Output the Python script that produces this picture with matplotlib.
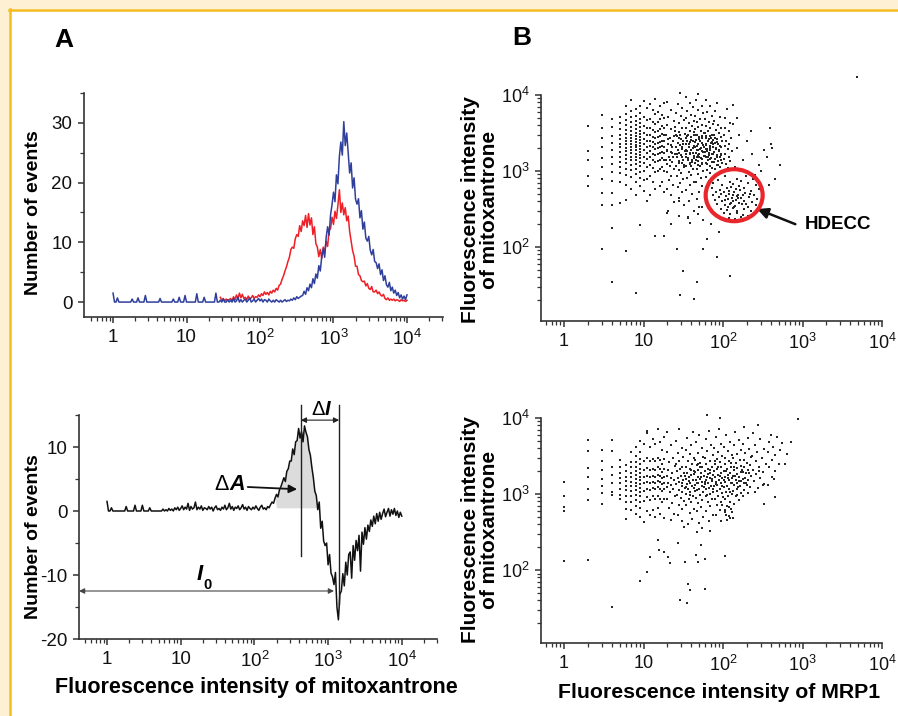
import numpy as np
import matplotlib
matplotlib.use("Agg")
import matplotlib.pyplot as plt
from matplotlib.patches import Ellipse, Rectangle
from matplotlib.lines import Line2D
from matplotlib.ticker import FixedLocator, LogLocator, MultipleLocator, NullFormatter

plt.rcParams['font.family'] = ['Liberation Sans', 'DejaVu Sans']
plt.rcParams['mathtext.default'] = 'regular'
plt.rcParams['axes.unicode_minus'] = False

# ====================== DATA ======================
decade_ticks = [1, 10, 100, 1000, 10000]
decade_labels = ['1', '10', '$10^2$', '$10^3$', '$10^4$']
mito_ticks = [100, 1000, 10000]
mito_labels = ['$10^2$', '$10^3$', '$10^4$']

# histogram channels: log10 of fluorescence, 0 .. 4 (201 channels)
channel_log_first, channel_log_last = 0.0, 4.0

blue_counts = [
    1.5, 0, 0, 0.7, 0, 0, 0, 0, 0, 0,
    0, 0, 0, 0.5, 0, 0, 0, 0.7, 0, 0,
    0, 0, 1.1, 0, 0, 0, 0, 0, 0, 0,
    0, 0, 0.6, 0, 0, 0, 0, 0, 0, 0,
    0, 0.5, 0, 0, 0, 0.8, 0, 0, 0, 1.1,
    0, 0, 0, 0, 0, 0, 0, 1.4, 0, 0,
    0, 0, 0.8, 0, 0, 0, 0, 0, 0, 0,
    1.5, 0, 0, 0.3, 0, 0.5, 0, 0, 0.4, 0,
    0.3, 0, 0.6, 0, 0.2, 0.8, 0, 0.4, 0, 0.3,
    0.5, 0, 0.3, 0.7, 0, 0.2, 0.5, 0, 0.3, 0.6,
    0.2, 0.5, 0, 0.4, 0.3, 0, 0.5, 0.2, 0, 0.3,
    0, 0.4, 0.2, 0, 0.3, 0, 0.2, 0.4, 0.1, 0.3,
    0.2, 0.5, 0.3, 0.7, 0.4, 0.9, 0.6, 0.8, 1.0, 1.1,
    1.8, 1.3, 2.4, 1.9, 3.0, 2.4, 3.9, 3.1, 4.7, 4.0,
    6.1, 5.2, 7.6, 8.9, 7.5, 10.8, 12.6, 11.2, 14.6, 16.3,
    18.4, 16.8, 21.3, 19.8, 24.4, 26.8, 24.6, 30.2, 26.2, 28.3,
    24.9, 21.6, 23.3, 19.1, 20.8, 17.2, 16.4, 17.3, 14.1, 15.3,
    12.2, 13.4, 10.7, 10.2, 11.0, 8.7, 7.9, 8.8, 6.8, 6.6,
    5.6, 6.4, 4.6, 5.4, 3.6, 4.4, 2.9, 2.5, 3.3, 1.9,
    2.5, 1.5, 2.0, 1.1, 1.6, 0.7, 1.2, 0.5, 1.0, 0.4,
    1.2]

red_first_channel = 73
red_counts = [
    0.8, 0.3, 0.6, 0.2, 0.5, 0.3, 0.4,
    0.6, 0.2, 0.9, 0.4, 1.2, 0.5, 1.5, 0.7, 1.3, 0.6,
    0.8, 0.4, 1.0, 0.5, 0.7, 1.1, 0.6, 0.9, 0.8, 1.2,
    0.9, 1.4, 1.1, 1.7, 1.3, 1.6, 1.2, 1.8, 1.5, 2.0,
    1.7, 2.3, 2.0, 2.8, 3.0, 3.8, 4.4, 5.2, 5.9, 6.8,
    7.5, 8.8, 9.2, 9.0, 10.6, 11.3, 11.0, 12.8, 11.8, 13.6,
    12.8, 14.5, 12.5, 14.8, 12.9, 14.1, 11.3, 12.6, 9.8, 9.2,
    7.6, 8.8, 7.3, 9.2, 8.2, 10.2, 9.3, 12.0, 12.3, 14.2,
    13.0, 15.2, 14.0, 16.2, 18.8, 15.0, 16.6, 14.6, 15.8, 13.6,
    14.4, 11.8, 10.2, 8.6, 7.7, 6.0, 6.0, 4.6, 4.4, 3.6,
    3.4, 3.5, 2.7, 3.1, 2.3, 2.1, 2.6, 1.7, 1.7, 2.0,
    1.4, 1.7, 1.2, 1.0, 1.3, 0.6, 0.4, 0.7, 0.3, 0.5,
    0.3, 0.5, 0.2, 0.4, 0.3, 0.1, 0.4, 0.2, 0.3, 0.1,
    0.3]

diff_counts = [
    1.5, 0, 0, 0.5, 0, 0, 0, 0, 0, 0,
    0, 0, 0, 0.7, 0, 0, 0, 0, 0, 0.9,
    0, 0, 0, 0, 0.9, 0, 0, 0, 0, 0.5,
    0, 0, 0, 0, 0, 0, 0, 0, 0.3, 0,
    0.2, 0, 0.4, 0.1, 0.3, 0, 0.5, 0.2, 0.6, 0.1,
    0.4, 0.8, 0.2, 0.6, 0.3, 1.2, 0.1, 0.7, 0.3, 0.5,
    1.4, 0.2, 0.6, 0.3, 0.8, 0.1, 0.5, 0.4, 0.2, 0.7,
    0.3, 0.6, 0.0, 0.5, 0.8, 0.2, 0.4, 0.1, 0.6, 0.3,
    0.9, 0.2, 0.5, 1.2, 0.3, 0.7, 0.1, 0.6, 0.4, 0.8,
    0.2, 0.5, 1.0, 0.3, 0.6, 0.1, 0.7, 0.4, 0.2, 0.6,
    0.3, 0.8, 0.4, 0.1, 0.6, 0.9, 0.3, 0.5, 0.2, 0.7,
    0.5, 1.0, 1.4, 1.2, 2.0, 2.6, 2.2, 3.3, 3.8, 4.5,
    5.2, 4.6, 6.2, 6.6, 7.8, 7.8, 9.7, 8.8, 10.8, 11.0,
    12.9, 11.4, 12.4, 10.8, 13.3, 12.3, 11.6, 9.6, 8.7, 6.8,
    5.2, 3.1, 2.4, 0.2, 1.4, -2.7, -1.6, -4.7, -5.4, -5.0,
    -8.4, -6.8, -9.7, -10.3, -11.5, -9.6, -15.0, -17.0, -13.0, -12.5,
    -9.8, -11.7, -8.0, -10.0, -6.8, -6.4, -10.5, -5.4, -7.7, -4.6,
    -6.2, -3.8, -9.4, -3.3, -5.2, -2.6, -4.4, -2.2, -3.2, -1.4,
    -2.4, -0.8, -2.0, -0.4, -1.6, -0.2, -1.3, -0.4, 0.3, -0.9,
    -0.2, 0.4, -0.8, 0.2, -0.5, 0.4, -0.7, 0.0, -1.0, -0.2,
    -0.8]

# annotation values for the difference histogram
shade_log_range = (2.30, 2.86)
shade_base = 0.5
peak_log = 2.63          # positive peak (start of Delta I)
trough_log = 3.15        # negative trough (end of Delta I)
i0_log = 3.08            # end of the I0 arrow
i0_level = -12.5
dI_level = 14.2

# ---- panel B, top: (log10 MRP1, log10 mitoxantrone) ----
b1_col_mrp1 = [2, 3, 4, 5, 6, 7, 8, 9, 10, 11, 12, 13, 14, 15, 16, 17, 18]
b1_col_logmito = [
    [3.59, 3.26, 3.14, 2.93, 2.80],
    [3.74, 3.57, 3.43, 3.31, 3.17, 3.05, 2.90, 2.71, 2.55, 1.97],
    [3.69, 3.58, 3.46, 3.37, 3.27, 3.19, 3.09, 2.99, 2.87, 2.71, 2.55, 2.25, 1.54],
    [3.71, 3.63, 3.55, 3.48, 3.42, 3.36, 3.31, 3.25, 3.19, 3.12, 3.05, 2.97, 2.86, 2.58],
    [3.86, 3.75, 3.67, 3.60, 3.54, 3.49, 3.44, 3.39, 3.35, 3.30, 3.26, 3.21, 3.16, 3.10, 3.03, 2.95, 2.81, 2.62, 1.95],
    [3.93, 3.79, 3.71, 3.64, 3.58, 3.53, 3.48, 3.44, 3.40, 3.36, 3.32, 3.28, 3.24, 3.19, 3.14, 3.08, 3.01, 2.92, 2.76],
    [3.81, 3.73, 3.66, 3.60, 3.55, 3.50, 3.46, 3.42, 3.38, 3.34, 3.31, 3.27, 3.23, 3.19, 3.14, 3.09, 3.03, 2.96, 2.86, 2.69, 1.39],
    [3.86, 3.76, 3.69, 3.63, 3.58, 3.53, 3.49, 3.45, 3.41, 3.37, 3.33, 3.29, 3.25, 3.21, 3.17, 3.12, 3.06, 2.99, 2.91, 2.80, 2.29],
    [3.92, 3.71, 3.59, 3.50, 3.42, 3.35, 3.27, 3.19, 3.10, 3.00, 2.88, 2.74],
    [3.83, 3.67, 3.56, 3.47, 3.39, 3.32, 3.24, 3.16, 3.05, 2.90, 2.60],
    [3.88, 3.69, 3.57, 3.48, 3.40, 3.33, 3.26, 3.18, 3.08, 2.94, 2.68],
    [3.80, 3.65, 3.54, 3.45, 3.38, 3.31, 3.23, 3.15, 3.04, 2.86],
    [3.95, 3.75, 3.62, 3.51, 3.43, 3.36, 3.29, 3.21, 3.12, 2.99, 2.76, 2.14],
    [3.78, 3.64, 3.53, 3.45, 3.37, 3.30, 3.22, 3.13, 3.00],
    [3.86, 3.68, 3.55, 3.46, 3.38, 3.31, 3.24, 3.15, 3.02, 2.80],
    [3.74, 3.59, 3.49, 3.40, 3.33, 3.25, 3.17, 3.05, 2.85],
    [3.90, 3.70, 3.57, 3.47, 3.39, 3.32, 3.24, 3.14, 3.00, 2.72],
]
b1_main = [
    (1.29,3.91),(1.35,3.80),(1.31,3.71),(1.38,3.66),(1.30,3.61),(1.34,3.55),(1.39,3.53),(1.28,3.47),
    (1.33,3.44),(1.37,3.39),(1.31,3.36),(1.36,3.31),(1.29,3.28),(1.34,3.25),(1.39,3.22),(1.32,3.18),
    (1.28,3.14),(1.36,3.12),(1.33,3.07),(1.38,3.03),(1.30,2.99),(1.35,2.94),(1.32,2.88),(1.37,2.82),
    (1.29,2.76),(1.34,2.68),(1.38,2.59),(1.31,2.47),
    (1.46,4.03),(1.43,3.88),(1.49,3.83),(1.41,3.76),(1.47,3.72),(1.51,3.67),(1.44,3.63),(1.40,3.58),
    (1.48,3.56),(1.45,3.51),(1.52,3.49),(1.42,3.46),(1.47,3.42),(1.50,3.40),(1.43,3.37),(1.46,3.34),
    (1.41,3.31),(1.49,3.29),(1.52,3.26),(1.44,3.24),(1.47,3.21),(1.42,3.18),(1.50,3.15),(1.45,3.13),
    (1.48,3.10),(1.41,3.07),(1.51,3.05),(1.44,3.01),(1.47,2.97),(1.42,2.93),(1.50,2.89),(1.46,2.84),
    (1.43,2.79),(1.49,2.72),(1.45,2.64),(1.51,2.55),(1.44,2.41),
    (1.53,3.98),(1.58,3.90),(1.62,3.84),(1.55,3.79),(1.60,3.74),(1.54,3.70),(1.63,3.66),(1.57,3.63),
    (1.61,3.59),(1.53,3.57),(1.59,3.53),(1.64,3.51),(1.56,3.48),(1.60,3.45),(1.54,3.43),(1.62,3.40),
    (1.58,3.38),(1.53,3.35),(1.63,3.33),(1.57,3.31),(1.60,3.28),(1.55,3.26),(1.62,3.24),(1.58,3.22),
    (1.53,3.19),(1.64,3.17),(1.56,3.15),(1.61,3.12),(1.59,3.09),(1.54,3.06),(1.62,3.03),(1.57,2.99),
    (1.60,2.95),(1.55,2.91),(1.63,2.86),(1.58,2.81),(1.54,2.75),(1.61,2.70),(1.57,2.61),(1.63,2.48),
    (1.56,2.38),
    (1.69,4.01),(1.66,3.93),(1.73,3.86),(1.68,3.80),(1.75,3.76),(1.65,3.72),(1.71,3.68),(1.67,3.64),
    (1.74,3.61),(1.69,3.58),(1.65,3.55),(1.72,3.53),(1.76,3.50),(1.67,3.48),(1.70,3.45),(1.74,3.43),
    (1.66,3.41),(1.71,3.39),(1.68,3.36),(1.75,3.34),(1.65,3.32),(1.72,3.30),(1.69,3.28),(1.74,3.26),
    (1.66,3.24),(1.70,3.22),(1.76,3.20),(1.67,3.18),(1.73,3.16),(1.69,3.13),(1.65,3.11),(1.74,3.09),
    (1.71,3.06),(1.67,3.03),(1.75,3.00),(1.69,2.96),(1.72,2.91),(1.66,2.86),(1.74,2.80),(1.70,2.73),
    (1.67,2.63),(1.73,2.52),(1.69,2.44),(1.75,2.36),
    (1.78,3.94),(1.83,3.85),(1.80,3.78),(1.86,3.73),(1.77,3.69),(1.82,3.65),(1.87,3.62),(1.79,3.59),
    (1.84,3.56),(1.81,3.53),(1.77,3.50),(1.86,3.48),(1.83,3.46),(1.79,3.43),(1.88,3.41),(1.81,3.39),
    (1.85,3.37),(1.78,3.35),(1.83,3.33),(1.87,3.31),(1.80,3.29),(1.84,3.27),(1.77,3.25),(1.86,3.23),
    (1.82,3.21),(1.79,3.19),(1.85,3.17),(1.81,3.14),(1.88,3.12),(1.78,3.10),(1.83,3.07),(1.86,3.04),
    (1.80,3.01),(1.84,2.97),(1.78,2.92),(1.82,2.87),
    (1.93,3.89),(1.90,3.79),(1.96,3.71),(1.89,3.66),(1.94,3.61),(1.98,3.57),(1.91,3.54),(1.95,3.50),
    (1.89,3.47),(1.97,3.45),(1.92,3.42),(1.99,3.39),(1.90,3.37),(1.94,3.35),(1.97,3.32),(1.91,3.30),
    (1.95,3.28),(1.89,3.25),(1.98,3.23),(1.93,3.21),(1.96,3.18),(1.90,3.16),(1.94,3.13),(1.99,3.11),
    (1.92,3.08),(1.96,3.05),(1.90,3.02),(1.95,2.98),
    (2.05,3.82),(2.02,3.70),(2.09,3.63),(2.03,3.57),(2.07,3.52),(2.01,3.47),(2.10,3.44),(2.04,3.40),
    (2.08,3.36),(2.02,3.33),(2.06,3.29),(2.11,3.26),(2.03,3.23),(2.07,3.19),(2.01,3.16),(2.09,3.13),
    (2.04,3.09),(2.06,3.04),
]
b1_core = [
    (1.41,3.48),(1.45,3.44),(1.50,3.35),(1.43,3.27),(1.48,3.19),(1.44,3.11),(1.51,3.08),(1.46,3.47),
    (1.42,3.22),(1.49,3.32),(1.55,3.46),(1.60,3.41),(1.57,3.36),(1.62,3.30),(1.54,3.28),(1.59,3.24),
    (1.63,3.20),(1.56,3.17),(1.61,3.14),(1.58,3.10),(1.55,3.39),(1.63,3.47),(1.53,3.22),(1.60,3.06),
    (1.66,3.47),(1.70,3.42),(1.73,3.37),(1.67,3.33),(1.71,3.29),(1.75,3.25),(1.68,3.21),(1.72,3.17),
    (1.66,3.14),(1.74,3.11),(1.69,3.08),(1.73,3.46),(1.65,3.38),(1.76,3.31),(1.70,3.19),(1.67,3.27),
    (1.78,3.46),(1.82,3.42),(1.86,3.38),(1.79,3.34),(1.84,3.30),(1.80,3.26),(1.87,3.22),(1.77,3.20),
    (1.83,3.16),(1.86,3.12),(1.80,3.09),(1.85,3.44),(1.78,3.29),(1.82,3.24),(1.88,3.35),(1.81,3.19),
    (1.90,3.43),(1.93,3.38),(1.96,3.33),(1.91,3.29),(1.95,3.26),(1.98,3.21),(1.92,3.18),(1.97,3.14),
    (1.89,3.12),(1.94,3.08),(1.31,3.42),(1.35,3.34),(1.29,3.26),(1.37,3.19),(1.33,3.15),(1.38,3.46),
    (1.30,3.09),(1.36,3.24),
]
b1_hdecc = [
    (2.02,2.93),(2.17,2.90),(2.29,2.94),(1.94,2.88),(2.09,2.86),(2.23,2.87),(2.38,2.89),
    (1.88,2.84),(1.99,2.81),(2.13,2.83),(2.20,2.80),(2.31,2.84),(2.42,2.81),(2.05,2.78),
    (1.86,2.77),(1.96,2.75),(2.10,2.79),(2.16,2.76),(2.26,2.78),(2.35,2.74),(2.45,2.76),
    (1.91,2.72),(2.01,2.73),(2.07,2.70),(2.14,2.72),(2.19,2.69),(2.28,2.71),(2.39,2.69),
    (1.87,2.68),(1.95,2.66),(2.04,2.67),(2.11,2.65),(2.17,2.67),(2.23,2.64),(2.33,2.66),(2.43,2.63),
    (1.90,2.62),(1.99,2.60),(2.06,2.63),(2.13,2.61),(2.20,2.58),(2.27,2.61),(2.36,2.59),
    (1.93,2.56),(2.02,2.55),(2.09,2.57),(2.15,2.54),(2.24,2.56),(2.31,2.53),(2.41,2.55),
    (1.97,2.50),(2.05,2.49),(2.12,2.51),(2.18,2.48),(2.27,2.50),(2.35,2.47),
    (2.01,2.45),(2.09,2.43),(2.17,2.45),(2.25,2.42),(2.07,2.38),(2.15,2.37),(2.22,2.39),(2.31,2.41),
    (2.12,2.33),(2.08,2.74),(2.21,2.75),(2.12,2.69),(2.16,2.62),(2.10,2.58),(2.19,2.64),(2.25,2.68),
    (2.03,2.62),(2.14,2.52),(2.06,2.53),(2.29,2.57),(1.98,2.70),(2.34,2.70),
]
b1_sparse = [
    (2.12,3.62),(2.20,3.48),(2.30,3.40),(2.17,3.30),(2.25,3.15),(2.36,3.22),(2.45,3.08),
    (2.52,3.28),(2.60,3.35),(2.59,3.56),(2.55,3.19),(2.72,3.08),(2.48,3.00),(2.40,2.95),
    (2.15,3.05),(2.28,2.99),(2.58,2.82),(2.66,2.90),(2.18,3.70),(2.13,3.87),(2.62,3.30),
    (2.35,3.52),
    (1.30,2.45),(1.44,2.60),(1.56,2.40),(1.70,2.52),(1.26,2.15),(1.58,2.31),(1.42,1.98),
    (1.75,1.98),(1.50,1.69),(1.67,1.54),(1.46,1.37),(1.64,1.32),(1.92,1.87),(2.09,1.62),
    (1.85,2.30),(1.95,2.20),(1.35,2.30),(1.80,2.10),
    (3.69,4.24),
]
hdecc_center = (138, 480)          # MRP1, mitoxantrone
hdecc_size_decades = (0.717, 0.684)

# ---- panel B, bottom ----
b2_col_mrp1 = [1, 2, 3, 4, 5, 6, 7, 8, 9, 10, 11, 12, 13, 14, 15, 16, 17, 18]
b2_col_logmito = [
    [3.16, 2.97, 2.83, 2.78, 2.12],
    [3.71, 3.56, 3.34, 3.23, 3.07, 2.92, 2.13],
    [3.58, 3.43, 3.32, 3.20, 3.10, 3.01, 2.87],
    [3.71, 3.56, 3.36, 3.25, 3.14, 3.03, 2.99, 1.51],
    [3.45, 3.36, 3.28, 3.21, 3.14, 3.07, 2.99, 2.93],
    [3.38, 3.30, 3.23, 3.17, 3.11, 3.05, 2.98, 2.90, 2.80, 2.67],
    [3.55, 3.42, 3.35, 3.28, 3.22, 3.16, 3.10, 3.04, 2.97, 2.89, 2.79],
    [3.62, 3.50, 3.42, 3.36, 3.30, 3.25, 3.20, 3.15, 3.10, 3.05, 2.99, 2.92, 2.84, 2.74],
    [3.70, 3.55, 3.46, 3.39, 3.33, 3.28, 3.23, 3.18, 3.13, 3.08, 3.03, 2.97, 2.90, 2.82, 2.70, 1.86],
    [3.66, 3.44, 3.32, 3.22, 3.14, 3.04, 2.91, 2.63],
    [3.80, 3.47, 3.34, 3.24, 3.16, 3.07, 2.96, 2.77, 1.98],
    [3.62, 3.43, 3.31, 3.22, 3.14, 3.05, 2.92, 2.72, 2.17],
    [3.73, 3.46, 3.33, 3.24, 3.16, 3.08, 2.97, 2.79],
    [3.66, 3.44, 3.32, 3.23, 3.15, 3.06, 2.93, 2.70],
    [3.85, 3.48, 3.35, 3.25, 3.17, 3.09, 2.98, 2.81, 2.39],
    [3.69, 3.45, 3.33, 3.24, 3.16, 3.07, 2.94, 2.74],
    [3.58, 3.40, 3.29, 3.21, 3.13, 3.04, 2.90],
    [3.75, 3.46, 3.33, 3.23, 3.15, 3.06, 2.93, 2.68, 2.24],
]
b2_main = [
    (1.30,3.82),(1.35,3.64),(1.29,3.55),(1.37,3.48),(1.32,3.42),(1.39,3.37),(1.31,3.32),(1.36,3.28),
    (1.29,3.24),(1.34,3.21),(1.38,3.18),(1.31,3.15),(1.35,3.12),(1.30,3.09),(1.37,3.06),(1.33,3.02),
    (1.39,2.98),(1.30,2.93),(1.36,2.88),(1.32,2.82),(1.38,2.74),(1.34,2.66),
    (1.44,3.86),(1.41,3.70),(1.48,3.61),(1.43,3.54),(1.50,3.49),(1.45,3.44),(1.41,3.40),(1.49,3.36),
    (1.46,3.33),(1.42,3.30),(1.51,3.27),(1.47,3.24),(1.43,3.21),(1.50,3.19),(1.45,3.16),(1.41,3.13),
    (1.48,3.11),(1.52,3.08),(1.44,3.05),(1.49,3.02),(1.42,2.99),(1.47,2.95),(1.51,2.91),(1.44,2.86),
    (1.49,2.80),(1.43,2.73),(1.48,2.64),(1.51,2.56),
    (1.62,3.81),(1.55,3.74),(1.60,3.65),(1.53,3.58),(1.58,3.52),(1.63,3.47),(1.56,3.43),(1.61,3.39),
    (1.54,3.36),(1.59,3.33),(1.63,3.30),(1.55,3.27),(1.60,3.25),(1.57,3.22),(1.53,3.20),(1.62,3.18),
    (1.58,3.15),(1.55,3.13),(1.61,3.10),(1.64,3.08),(1.56,3.06),(1.59,3.03),(1.53,3.00),(1.62,2.97),
    (1.57,2.94),(1.60,2.90),(1.54,2.85),(1.63,2.80),(1.58,2.75),(1.61,2.67),(1.56,2.60),
    (1.70,3.77),(1.66,3.69),(1.73,3.60),(1.68,3.54),(1.75,3.49),(1.65,3.45),(1.71,3.41),(1.67,3.38),
    (1.74,3.35),(1.69,3.32),(1.65,3.29),(1.72,3.27),(1.76,3.24),(1.68,3.22),(1.71,3.20),(1.66,3.18),
    (1.74,3.16),(1.69,3.14),(1.65,3.12),(1.73,3.10),(1.70,3.07),(1.67,3.05),(1.75,3.02),(1.71,2.99),
    (1.66,2.95),(1.74,2.92),(1.69,2.88),(1.72,2.83),(1.67,2.77),(1.75,2.70),(1.70,2.62),(1.73,2.55),
    (1.82,3.83),(1.78,3.72),(1.85,3.64),(1.80,3.57),(1.87,3.51),(1.77,3.47),(1.83,3.43),(1.79,3.39),
    (1.86,3.36),(1.81,3.33),(1.77,3.30),(1.84,3.28),(1.88,3.25),(1.80,3.23),(1.83,3.21),(1.78,3.19),
    (1.86,3.17),(1.81,3.15),(1.77,3.13),(1.85,3.11),(1.82,3.08),(1.79,3.06),(1.87,3.03),(1.83,3.00),
    (1.78,2.97),(1.86,2.93),(1.81,2.89),(1.84,2.84),(1.79,2.78),(1.87,2.72),(1.82,2.65),
    (1.95,3.86),(1.91,3.75),(1.97,3.66),(1.89,3.60),(1.94,3.55),(1.99,3.50),(1.92,3.46),(1.96,3.42),
    (1.90,3.39),(1.98,3.36),(1.93,3.33),(1.89,3.30),(1.97,3.28),(1.94,3.25),(1.90,3.23),(1.99,3.21),
    (1.95,3.19),(1.91,3.16),(1.98,3.14),(1.93,3.12),(1.89,3.10),(1.96,3.07),(1.92,3.04),(1.99,3.01),
    (1.94,2.98),(1.90,2.94),(1.97,2.90),(1.92,2.85),(1.96,2.79),(1.91,2.72),(1.98,2.64),
    (2.04,3.78),(2.09,3.68),(2.01,3.62),(2.06,3.56),(2.11,3.51),(2.03,3.47),(2.08,3.43),(2.02,3.39),
    (2.10,3.36),(2.05,3.33),(2.01,3.30),(2.09,3.28),(2.06,3.25),(2.02,3.23),(2.11,3.21),(2.07,3.18),
    (2.03,3.16),(2.10,3.14),(2.05,3.11),(2.01,3.09),(2.08,3.06),(2.04,3.03),(2.11,3.00),(2.06,2.97),
    (2.02,2.93),(2.09,2.89),(2.05,2.84),(2.10,2.80),(2.03,2.76),(2.08,2.71),(2.12,2.68),(2.05,2.66),
    (2.15,3.82),(2.20,3.71),(2.14,3.64),(2.22,3.58),(2.17,3.53),(2.13,3.48),(2.21,3.45),(2.16,3.41),
    (2.23,3.37),(2.18,3.34),(2.14,3.31),(2.22,3.29),(2.17,3.26),(2.13,3.24),(2.20,3.22),(2.16,3.19),
    (2.23,3.17),(2.18,3.15),(2.14,3.12),(2.21,3.10),(2.17,3.07),(2.13,3.04),(2.22,3.01),(2.16,2.97),
    (2.20,2.92),(2.14,2.87),
    (2.27,3.88),(2.31,3.74),(2.25,3.66),(2.33,3.59),(2.28,3.54),(2.35,3.49),(2.26,3.45),(2.30,3.41),
    (2.34,3.38),(2.27,3.35),(2.32,3.32),(2.25,3.29),(2.29,3.27),(2.35,3.24),(2.28,3.21),(2.32,3.18),
    (2.26,3.15),(2.30,3.12),(2.34,3.09),(2.27,3.05),(2.31,3.01),(2.25,2.97),
    (2.44,3.91),(2.38,3.80),(2.47,3.72),(2.40,3.64),(2.52,3.59),(2.43,3.55),(2.37,3.50),(2.49,3.47),
    (2.41,3.43),(2.54,3.40),(2.45,3.36),(2.38,3.32),(2.50,3.29),(2.42,3.26),(2.47,3.21),(2.39,3.17),
    (2.52,3.13),(2.44,3.08),(2.40,3.02),
    (2.60,3.78),(2.68,3.75),(2.58,3.68),(2.74,3.67),(2.63,3.62),(2.72,3.58),(2.56,3.55),(2.66,3.51),
    (2.80,3.52),(2.61,3.45),(2.70,3.40),(2.58,3.36),(2.65,3.30),(2.78,3.40),(2.62,3.22),(2.57,3.12),
]
b2_core = [
    (1.52,3.24),(1.57,3.17),(1.63,3.26),(1.67,3.15),(1.72,3.22),(1.77,3.16),(1.81,3.26),(1.86,3.20),
    (1.91,3.13),(1.96,3.24),(2.01,3.18),(2.06,3.21),(2.11,3.15),(2.15,3.24),(2.20,3.17),(2.25,3.20),
    (2.29,3.14),(1.54,3.09),(1.65,3.04),(1.76,3.09),(1.88,3.06),(1.99,3.10),(2.09,3.03),(2.19,3.09),
    (1.60,3.31),(1.71,3.35),(1.83,3.31),(1.94,3.36),(2.04,3.30),(2.14,3.36),(2.24,3.31),(2.33,3.28),
    (1.48,3.14),(1.58,2.99),(1.80,2.99),(2.00,2.96),(2.18,2.99),(1.69,3.40),(1.90,3.43),(2.10,3.41),
    (2.02,2.79),(2.07,2.83),(2.11,2.76),(2.04,2.72),(2.09,2.69),(1.99,2.86),
]
b2_sparse = [
    (1.67,2.50),(1.84,2.51),(1.43,2.36),(1.72,2.33),(1.33,2.09),(1.52,2.11),(1.66,2.20),
    (1.69,2.11),(1.77,2.15),(2.03,2.19),(1.56,1.82),(1.58,1.74),(1.77,1.75),(1.46,1.61),
    (1.55,1.56),(1.31,2.17),(1.20,2.27),
    (2.66,2.96),(2.52,2.87),(2.64,3.20),(2.94,3.99),(1.80,4.04),
    (1.96,4.00),(1.04,3.83),(2.45,3.30),(2.50,3.12),(2.40,3.02),(2.85,3.68),
]

# ====================== FIGURE ======================
W, H = 898, 716
fig = plt.figure(figsize=(W / 100, H / 100), dpi=100)
fig.patch.set_facecolor('white')

CREAM = '#fdf0d3'
YELLOW = '#f4bb1f'
BLUE = '#2f3f9c'
RED = '#ee1f26'
AX_COL = '#333333'

# frame decoration
fig.add_artist(Rectangle((0, 1 - 9 / H), 1, 9 / H, transform=fig.transFigure,
                         facecolor=CREAM, edgecolor='none', zorder=-5))
fig.add_artist(Rectangle((0, 0), 9 / W, 1, transform=fig.transFigure,
                         facecolor=CREAM, edgecolor='none', zorder=-5))
fig.add_artist(Line2D([9 / W, 1], [1 - 9.5 / H] * 2, transform=fig.transFigure,
                      color=YELLOW, lw=1.8))
fig.add_artist(Line2D([9.5 / W] * 2, [0, 1 - 9 / H], transform=fig.transFigure,
                      color=YELLOW, lw=1.8))


def add_ax(l, t, r, b):
    return fig.add_axes([l / W, 1 - b / H, (r - l) / W, (b - t) / H])


def style(ax, labelsize=13.5):
    for s in ('top', 'right'):
        ax.spines[s].set_visible(False)
    for s in ('left', 'bottom'):
        ax.spines[s].set_linewidth(1.2)
        ax.spines[s].set_color(AX_COL)
    ax.tick_params(which='major', direction='out', length=4.3, width=1.1,
                   color=AX_COL, labelsize=labelsize, pad=4, labelcolor='#111')
    ax.tick_params(which='minor', direction='out', length=3, width=0.9, color=AX_COL)
    ax.set_facecolor('none')


def log_x(ax, lo, hi):
    ax.set_xscale('log')
    ax.set_xlim(lo, hi)
    ax.xaxis.set_major_locator(FixedLocator(decade_ticks))
    ax.set_xticklabels(decade_labels)
    ax.xaxis.set_minor_locator(LogLocator(base=10, subs=np.arange(2, 10), numticks=20))
    ax.xaxis.set_minor_formatter(NullFormatter())


lx = np.linspace(channel_log_first, channel_log_last, len(blue_counts))
chan = 10 ** lx

# ---------- A top ----------
axA1 = add_ax(84, 93, 443, 317)
style(axA1)
log_x(axA1, 10 ** -0.395, 10 ** 4.49)
axA1.set_ylim(-2.5, 35)
axA1.set_yticks([0, 10, 20, 30])
axA1.yaxis.set_minor_locator(MultipleLocator(5))
axA1.plot(chan[red_first_channel:], red_counts, color=RED, lw=1.1)
axA1.plot(chan, blue_counts, color=BLUE, lw=1.1)

# ---------- A bottom ----------
axA2 = add_ax(79, 415, 437, 639)
style(axA2)
log_x(axA2, 10 ** -0.38, 10 ** 4.478)
axA2.set_ylim(-20, 15)
axA2.set_yticks([-20, -10, 0, 10])
axA2.set_yticklabels(['-20', '-10', '0', '10'])
axA2.yaxis.set_minor_locator(MultipleLocator(5))
diff = np.array(diff_counts)
mask = (lx >= shade_log_range[0]) & (lx <= shade_log_range[1])
axA2.fill_between(chan, diff, shade_base, where=mask & (diff > shade_base),
                  interpolate=True, color='#dcdcdc', lw=0, zorder=1)
axA2.plot(chan, diff, color='#111111', lw=1.1, zorder=3)
axA2.plot([10 ** peak_log] * 2, [-7.0, 16.6], color='#222', lw=1.0, clip_on=False, zorder=4)
axA2.plot([10 ** trough_log] * 2, [-14.5, 16.6], color='#222', lw=1.0, clip_on=False, zorder=4)
axA2.annotate('', xy=(10 ** trough_log, dI_level), xytext=(10 ** peak_log, dI_level),
              arrowprops=dict(arrowstyle='<|-|>', lw=0.8, color='#222',
                              mutation_scale=8, shrinkA=0, shrinkB=0))
axA2.annotate('', xy=(10 ** i0_log, i0_level), xytext=(10 ** -0.38, i0_level),
              arrowprops=dict(arrowstyle='<|-|>', lw=0.8, color='#444',
                              mutation_scale=8, shrinkA=0, shrinkB=0),
              annotation_clip=False)
axA2.annotate('', xy=(10 ** 2.58, 3.4), xytext=(10 ** 1.91, 3.75),
              arrowprops=dict(arrowstyle='-|>', lw=1.3, color='#111',
                              mutation_scale=12, shrinkA=0, shrinkB=0))
axA2.text(10 ** 1.655, 4.1, 'Δ', fontsize=15.5, ha='right', va='center')
axA2.text(10 ** 1.655, 4.1, 'A', fontsize=15.5, fontweight='bold', style='italic',
          ha='left', va='center')
axA2.text(10 ** 2.958, 15.8, 'Δ', fontsize=14.5, ha='right', va='center', clip_on=False)
axA2.text(10 ** 2.958, 15.8, 'I', fontsize=14.5, fontweight='bold', style='italic',
          ha='left', va='center', clip_on=False)
axA2.text(10 ** 1.262, -10.0, 'I', fontsize=16, fontweight='bold', style='italic',
          ha='center', va='center')
axA2.text(10 ** 1.36, -11.6, '0', fontsize=10.5, fontweight='bold', ha='center', va='center')


# ---------- B panels ----------
def scatter_panel(ax, col_x, col_logy, groups):
    xs, ys = [], []
    for x, yl in zip(col_x, col_logy):
        xs += [x] * len(yl)
        ys += [10 ** v for v in yl]
    for g in groups:
        xs += [10 ** p[0] for p in g]
        ys += [10 ** p[1] for p in g]
    ax.scatter(xs, ys, s=1.6, marker='s', c='#262626', linewidths=0, clip_on=False, zorder=2)


def log_y_b(ax, lo):
    ax.set_yscale('log')
    ax.set_ylim(lo, 1e4)
    ax.yaxis.set_major_locator(FixedLocator(mito_ticks))
    ax.set_yticklabels(mito_labels)
    ax.yaxis.set_minor_locator(LogLocator(base=10, subs=np.arange(2, 10), numticks=20))
    ax.yaxis.set_minor_formatter(NullFormatter())


B_XLO = 10 ** -0.29
axB1 = add_ax(541, 95, 882, 321)
style(axB1, labelsize=13)
log_x(axB1, B_XLO, 1e4)
log_y_b(axB1, 10 ** 1.026)
scatter_panel(axB1, b1_col_mrp1, b1_col_logmito, [b1_main, b1_core, b1_hdecc, b1_sparse])

# HDECC ellipse in axes fraction (log-space geometry)
xl = np.log10(axB1.get_xlim())
yl = np.log10(axB1.get_ylim())
cx = (np.log10(hdecc_center[0]) - xl[0]) / (xl[1] - xl[0])
cy = (np.log10(hdecc_center[1]) - yl[0]) / (yl[1] - yl[0])
ew = hdecc_size_decades[0] / (xl[1] - xl[0])
eh = hdecc_size_decades[1] / (yl[1] - yl[0])
axB1.add_patch(Ellipse((cx, cy), ew, eh, transform=axB1.transAxes, fill=False,
                       edgecolor='#e8262b', lw=3.0, zorder=5))
axB1.annotate('', xy=(10 ** 2.43, 10 ** 2.50), xytext=(10 ** 2.91, 10 ** 2.30),
              arrowprops=dict(arrowstyle='-|>', lw=1.8, color='#111',
                              mutation_scale=16, shrinkA=0, shrinkB=0),
              annotation_clip=False)
axB1.text(10 ** 3.03, 10 ** 2.29, 'HDECC', fontsize=13.5, fontweight='bold',
          ha='left', va='center')

axB2 = add_ax(541, 418, 882, 643)
style(axB2, labelsize=13)
log_x(axB2, B_XLO, 1e4)
log_y_b(axB2, 10 ** 1.04)
scatter_panel(axB2, b2_col_mrp1, b2_col_logmito, [b2_main, b2_core, b2_sparse])


# ---------- labels ----------
def ftext(px, py, s, **kw):
    fig.text(px / W, 1 - py / H, s, **kw)


ftext(64, 40, 'A', fontsize=19, fontweight='bold', ha='center', va='center')
ftext(522, 38, 'B', fontsize=19, fontweight='bold', ha='center', va='center')
ftext(34, 213, 'Number of events', fontsize=14, fontweight='bold', rotation=90,
      ha='center', va='center')
ftext(34, 537, 'Number of events', fontsize=14, fontweight='bold', rotation=90,
      ha='center', va='center')
ftext(480, 210, 'Fluorescence intensity\nof mitoxantrone', fontsize=15,
      fontweight='bold', rotation=90, ha='center', va='center', linespacing=1.05)
ftext(480, 530, 'Fluorescence intensity\nof mitoxantrone', fontsize=15,
      fontweight='bold', rotation=90, ha='center', va='center', linespacing=1.05)
ftext(256, 688, 'Fluorescence intensity of mitoxantrone', fontsize=15.5,
      fontweight='bold', ha='center', va='center')
ftext(719, 692, 'Fluorescence intensity of MRP1', fontsize=15.3,
      fontweight='bold', ha='center', va='center')

fig.savefig('out.png', dpi=100, facecolor='white')
